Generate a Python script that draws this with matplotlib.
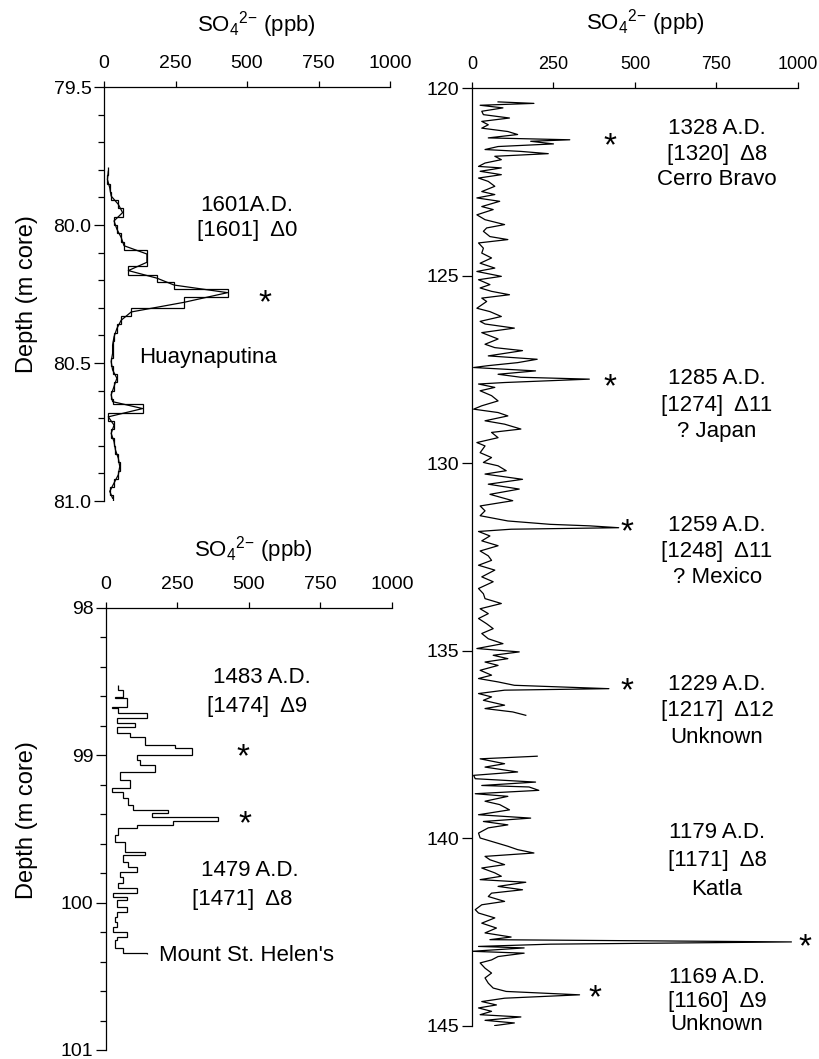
import numpy as np
import matplotlib.pyplot as plt

plt.rcParams['font.family'] = ['Liberation Sans', 'DejaVu Sans']
plt.rcParams['mathtext.fontset'] = 'custom'
plt.rcParams['mathtext.rm'] = 'Liberation Sans'
plt.rcParams['mathtext.it'] = 'Liberation Sans'

# --- Huaynaputina section (step record + joined line)
edges_hua = [79.79, 79.82, 79.85, 79.88, 79.91, 79.94, 79.97, 80.00, 80.03, 80.06,
             80.09, 80.12, 80.15, 80.18, 80.205, 80.23, 80.26, 80.30, 80.33, 80.36,
             80.39, 80.42, 80.45, 80.48, 80.51, 80.54, 80.57, 80.60, 80.63, 80.65,
             80.68, 80.71, 80.74, 80.77, 80.80, 80.83, 80.86, 80.89, 80.92, 80.95,
             80.98, 81.00]
so4_hua = [15, 12, 20, 25, 50, 65, 35, 45, 60, 70,
           150, 150, 85, 185, 245, 432, 280, 95, 60, 45,
           35, 30, 30, 25, 30, 45, 35, 25, 30, 135,
           15, 35, 25, 35, 40, 50, 55, 50, 35, 20, 30]

# --- 1479/1483 section (step record)
edges_msh = [98.523, 98.557, 98.602, 98.613, 98.670, 98.681, 98.715, 98.749, 98.783, 98.806,
             98.851, 98.874, 98.930, 98.953, 98.998, 99.032, 99.066, 99.111, 99.168, 99.224,
             99.247, 99.292, 99.337, 99.371, 99.394, 99.421, 99.444, 99.473, 99.496, 99.541,
             99.587, 99.654, 99.677, 99.722, 99.756, 99.790, 99.824, 99.869, 99.903, 99.932,
             99.960, 99.982, 100.028, 100.062, 100.096, 100.130, 100.164, 100.198, 100.232, 100.254,
             100.310, 100.344, 100.346]
so4_msh = [43, 61, 31, 72, 20, 43, 142, 37, 101, 37,
           84, 136, 241, 300, 107, 119, 171, 49, 84, 20,
           61, 78, 96, 218, 160, 393, 236, 107, 43, 31,
           66, 136, 61, 78, 107, 49, 61, 43, 107, 26,
           72, 37, 72, 37, 31, 37, 26, 72, 37, 31,
           61, 142]

# --- long record 120-145 m
depth_long = [
    120.37, 120.41, 120.46, 120.53, 120.62, 120.71, 120.80, 120.89, 120.98, 121.07,
    121.16, 121.24, 121.33, 121.38, 121.42, 121.49, 121.56, 121.64, 121.69, 121.75,
    121.82, 121.91, 122.00, 122.09, 122.13, 122.22, 122.31, 122.40, 122.49, 122.62,
    122.76, 122.84, 122.93, 123.02, 123.16, 123.24, 123.38, 123.51, 123.64, 123.73,
    123.82, 123.96, 124.04, 124.13, 124.27, 124.40, 124.53, 124.67, 124.80, 124.89,
    125.02, 125.11, 125.24, 125.33, 125.42, 125.51, 125.60, 125.69, 125.87, 125.96,
    126.09, 126.22,
    126.29, 126.40, 126.52, 126.69, 126.83, 126.92, 127.00, 127.14, 127.23, 127.32,
    127.40, 127.45, 127.54, 127.63, 127.71, 127.76, 127.85, 127.89, 127.98, 128.07,
    128.20, 128.34, 128.47, 128.56, 128.65, 128.74, 128.87, 128.96, 129.09, 129.18,
    129.32, 129.45, 129.54, 129.72, 129.85, 129.98, 130.07, 130.20, 130.29, 130.43,
    130.56, 130.69, 130.83, 131.00, 131.14, 131.27, 131.40, 131.54, 131.63, 131.67,
    131.72, 131.76, 131.82, 131.94, 132.07, 132.20, 132.34, 132.47,
    132.59, 132.72, 132.85, 133.03, 133.16, 133.34, 133.48, 133.61, 133.74, 133.88,
    134.01, 134.14, 134.28, 134.41, 134.54, 134.68, 134.81, 134.94, 135.03, 135.12,
    135.21, 135.30, 135.39, 135.52, 135.65, 135.74, 135.83, 135.92, 135.96, 136.01,
    136.05, 136.14, 136.23, 136.32, 136.45, 136.54, 136.63, 136.72,
    np.nan,
    137.81, 137.88, 138.01, 138.10, 138.23, 138.32, 138.41, 138.50, 138.59, 138.63,
    138.72, 138.81,
    138.88, 139.01, 139.10, 139.24, 139.37, 139.46, 139.55, 139.64, 139.72, 139.86,
    139.99, 140.08, 140.21, 140.30, 140.39, 140.48, 140.57, 140.70, 140.79, 140.92,
    141.01, 141.10, 141.17, 141.28, 141.37, 141.46, 141.55, 141.68, 141.77, 141.90,
    141.99, 142.12, 142.26, 142.39, 142.52, 142.63, 142.70, 142.76, 142.82, 142.88,
    142.92, 143.01, 143.06, 143.15, 143.24, 143.32, 143.46, 143.59, 143.72, 143.86,
    143.99, 144.08, 144.17, 144.26, 144.35, 144.44, 144.52, 144.61, 144.70, 144.76,
    144.85, 144.92, 144.99]
so4_long = [
    80, 190, 25, 95, 30, 35, 115, 30, 50, 30,
    110, 140, 50, 300, 180, 250, 80, 40, 150, 234,
    70, 90, 40, 20, 90, 25, 90, 20, 50, 70,
    30, 70, 15, 85, 30, 65, 15, 40, 100, 45,
    35, 55, 110, 20, 35, 30, 60, 25, 70, 15,
    90, 20, 55, 25, 60, 115, 30, 45, 15, 55,
    90, 25,
    40, 130, 30, 80, 40, 70, 155, 50, 200, 140,
    50, 5, 195, 80, 150, 360, 100, 20, 70, 25,
    60, 80, 30, 5, 80, 110, 40, 100, 150, 60,
    80, 15, 40, 25, 60, 35, 80, 105, 40, 155,
    50, 145, 55, 125, 25, 40, 25, 110, 240, 360,
    450, 120, 20, 55, 30, 80, 25, 50,
    60, 20, 70, 30, 65, 20, 35, 40, 90, 25,
    50, 20, 45, 65, 30, 50, 95, 15, 145, 65,
    110, 40, 80, 25, 60, 20, 80, 130, 260, 420,
    100, 20, 60, 35, 100, 40, 125, 165,
    np.nan,
    200, 25, 100, 40, 140, 5, 10, 195, 30, 175,
    205, 10,
    110, 40, 85, 115, 20, 180, 35, 110, 50, 20,
    25, 60, 110, 140, 190, 40, 55, 100, 30, 70,
    90, 25, 165, 80, 155, 60, 50, 100, 30, 10,
    20, 70, 30, 75, 40, 120, 55, 980, 240, 20,
    160, 0, 160, 80, 60, 25, 40, 60, 40, 50,
    65, 105, 330, 100, 30, 75, 20, 60, 25, 150,
    40, 130, 70]

xticks = [0, 250, 500, 750, 1000]
title = 'SO$_4$$^{2\\mathregular{-}}$ (ppb)'

fig = plt.figure(figsize=(8.19, 10.59), dpi=100)
ax1 = fig.add_axes([0.1270, 0.5269, 0.3492, 0.3909])
ax2 = fig.add_axes([0.1294, 0.0085, 0.3492, 0.4174])
ax3 = fig.add_axes([0.5763, 0.0312, 0.3980, 0.8857])


def style(ax, top, bottom, major, minor):
    ax.set_xlim(0, 1000)
    ax.set_ylim(bottom, top)
    ax.xaxis.tick_top()
    ax.set_xticks(xticks)
    ax.set_yticks(major)
    if minor is not None:
        ax.set_yticks(minor, minor=True)
    for s in ['right', 'bottom']:
        ax.spines[s].set_visible(False)
    for s in ['top', 'left']:
        ax.spines[s].set_linewidth(0.9)
    ax.tick_params(axis='x', direction='out', length=4, width=0.9, pad=7, labelsize=14)
    ax.tick_params(axis='y', which='major', direction='out', length=7, width=0.9, pad=2, labelsize=14)
    ax.tick_params(axis='y', which='minor', direction='out', length=4, width=0.9)


# titles over the three panels
fig.text(256 / 819, 1 - 25 / 1059, title, fontsize=16, ha='center', va='center')
fig.text(253 / 819, 1 - 550 / 1059, title, fontsize=16, ha='center', va='center')
fig.text(645 / 819, 1 - 23 / 1059, title, fontsize=16, ha='center', va='center')

# panel 1
style(ax1, 79.5, 81.0, [79.5, 80.0, 80.5, 81.0], [79.6, 79.7, 79.8, 79.9, 80.1, 80.2, 80.3, 80.4, 80.6, 80.7, 80.8, 80.9])
ax1.set_yticklabels(['79.5', '80.0', '80.5', '81.0'])
e = np.array(edges_hua)
ax1.stairs(so4_hua, edges_hua, orientation='horizontal', baseline=None, color='k', lw=0.9)
ax1.plot(so4_hua, (e[:-1] + e[1:]) / 2, color='k', lw=0.9)
ax1.set_ylabel('Depth (m core)', fontsize=17)
ax1.yaxis.set_label_coords(-0.231, 0.5)
ax1.text(500, 79.93, '1601A.D.', fontsize=16, ha='center', va='center')
ax1.text(500, 80.02, '[1601]  \u03940', fontsize=16, ha='center', va='center')
ax1.text(563, 80.285, '*', fontsize=24, ha='center', va='center')
ax1.text(364, 80.48, 'Huaynaputina', fontsize=16, ha='center', va='center')

# panel 2
style(ax2, 98, 101, [98, 99, 100, 101], [98.2, 98.4, 98.6, 98.8, 99.2, 99.4, 99.6, 99.8, 100.2, 100.4, 100.6, 100.8])
ax2.stairs(so4_msh, edges_msh, orientation='horizontal', baseline=None, color='k', lw=0.9)
ax2.set_ylabel('Depth (m core)', fontsize=17)
ax2.yaxis.set_label_coords(-0.238, 0.52)
ax2.text(546, 98.47, '1483 A.D.', fontsize=16, ha='center', va='center')
ax2.text(530, 98.67, '[1474]  \u03949', fontsize=16, ha='center', va='center')
ax2.text(480, 99.02, '*', fontsize=24, ha='center', va='center')
ax2.text(487, 99.47, '*', fontsize=24, ha='center', va='center')
ax2.text(504, 99.78, '1479 A.D.', fontsize=16, ha='center', va='center')
ax2.text(478, 99.98, '[1471]  \u03948', fontsize=16, ha='center', va='center')
ax2.text(186, 100.36, "Mount St. Helen's", fontsize=16, ha='left', va='center')

# panel 3
style(ax3, 120, 145, [120, 125, 130, 135, 140, 145], None)
ax3.tick_params(axis='x', labelsize=13)
ax3.plot(so4_long, depth_long, color='k', lw=0.9)

labels = [
    (121.07, 121.76, 122.45, '1328 A.D.', '[1320]  \u03948', 'Cerro Bravo'),
    (127.75, 128.45, 129.15, '1285 A.D.', '[1274]  \u039411', '? Japan'),
    (131.65, 132.35, 133.05, '1259 A.D.', '[1248]  \u039411', '? Mexico'),
    (135.9, 136.6, 137.3, '1229 A.D.', '[1217]  \u039412', 'Unknown'),
    (139.85, 140.6, 141.35, '1179 A.D.', '[1171]  \u03948', 'Katla'),
    (143.7, 144.35, 144.95, '1169 A.D.', '[1160]  \u03949', 'Unknown'),
]
for d1, d2, d3, a, b, c in labels:
    ax3.text(752, d1, a, fontsize=16, ha='center', va='center')
    ax3.text(752, d2, b, fontsize=16, ha='center', va='center')
    ax3.text(752, d3, c, fontsize=16, ha='center', va='center')

stars = [(424, 121.57), (424, 128.0), (477, 131.85), (477, 136.1), (1022, 142.92), (378, 144.27)]
for sx, sy in stars:
    ax3.text(sx, sy, '*', fontsize=24, ha='center', va='center', clip_on=False)

fig.savefig('out.png', dpi=100)
